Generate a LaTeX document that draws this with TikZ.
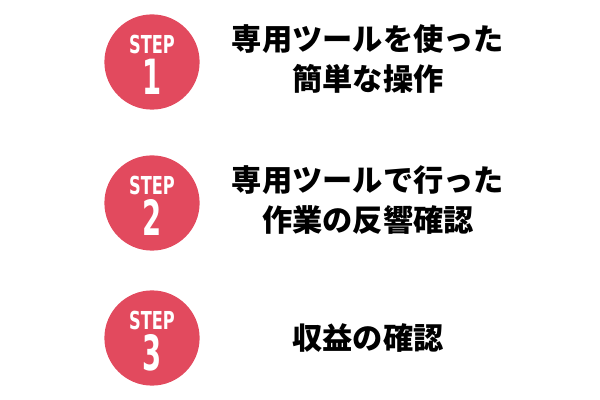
\documentclass[tikz,border=0pt]{standalone}
\usepackage{fontspec}
\newfontfamily\cjk{Noto Sans CJK JP}
\newfontfamily\stepfont{DejaVu Sans}
\definecolor{stepred}{HTML}{E24A5E}
\tikzset{
  stepdot/.style={circle, fill=stepred, minimum size=2.38cm, inner sep=0pt},
  steptext/.style={font=\cjk\bfseries\fontsize{21.5}{29}\selectfont, align=center, text=black}
}
\begin{document}
\begin{tikzpicture}[x=0.025cm,y=-0.025cm]
\useasboundingbox (0,0) rectangle (600,400);
% Steps
\node[stepdot] (s1) at (152,62) {};
\node[stepdot] (s2) at (152,203) {};
\node[stepdot] (s3) at (152,338) {};
\foreach \n in {1,2,3}{
  \node[text=white, font=\stepfont\bfseries\fontsize{16}{16}\selectfont, xscale=0.72, yscale=1.1] at ([yshift=0.45cm]s\n.center) {STEP};
  \node[text=white, font=\stepfont\bfseries\fontsize{30}{30}\selectfont, xscale=0.65, yscale=1.15] at ([yshift=-0.36cm]s\n.center) {\n};
}
% Texts
\node[steptext] (t1) at (368,59) {専用ツールを使った\\簡単な操作};
\node[steptext] (t2) at (368,200) {専用ツールで行った\\作業の反響確認};
\node[steptext] (t3) at (368,338) {収益の確認};
\end{tikzpicture}
\end{document}
